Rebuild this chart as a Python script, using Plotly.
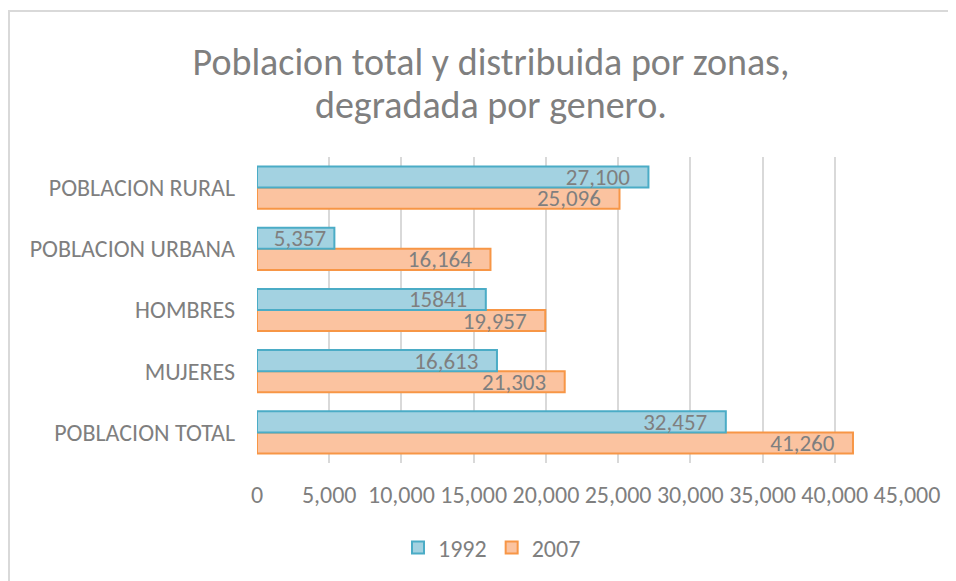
import plotly.graph_objects as go

categories = ["POBLACION TOTAL", "MUJERES", "HOMBRES", "POBLACION URBANA", "POBLACION RURAL"]
values_1992 = [32457, 16613, 15841, 5357, 27100]
values_2007 = [41260, 21303, 19957, 16164, 25096]
labels_1992 = ["32,457", "16,613", "15841", "5,357", "27,100"]
labels_2007 = ["41,260", "21,303", "19,957", "16,164", "25,096"]
x_ticks = [0, 5000, 10000, 15000, 20000, 25000, 30000, 35000, 40000, 45000]
x_tick_labels = ["0", "5,000", "10,000", "15,000", "20,000", "25,000", "30,000", "35,000", "40,000", "45,000"]
title_lines = ["Poblacion total y distribuida por zonas,", "degradada por genero."]

FONT = "Carlito, Calibri, Lato, 'Open Sans', sans-serif"
GRAY = "#7f7f7f"


def padded(labels, values):
    # inner padding at the bar end, smaller for short bars
    return [t + ("\u00a0" if v < 8000 else "\u00a0\u00a0\u00a0") for t, v in zip(labels, values)]


# browser body margin of 8px shifts the figure; compensate
OFF = 8
W, H = 956 - OFF, 581 - OFF
PL, PR, PT, PB = 257 - OFF, 907 - OFF, 157 - OFF, 463 - OFF
PW, PH = PR - PL, PB - PT


def px_x(x):  # page pixel -> paper x
    return (x - OFF - PL) / PW


def px_y(y):  # page pixel -> paper y
    return (PB - (y - OFF)) / PH


fig = go.Figure()
fig.add_trace(go.Bar(
    y=categories, x=values_2007, name="2007", orientation="h",
    marker=dict(color="#fbc3a0", line=dict(color="#f79646", width=2)),
    text=padded(labels_2007, values_2007), textposition="inside", insidetextanchor="end",
    constraintext="none", textfont=dict(color=GRAY, size=23, family=FONT),
))
fig.add_trace(go.Bar(
    y=categories, x=values_1992, name="1992", orientation="h",
    marker=dict(color="#a3d2e1", line=dict(color="#4bacc6", width=2)),
    text=padded(labels_1992, values_1992), textposition="inside", insidetextanchor="end",
    constraintext="none", textfont=dict(color=GRAY, size=23, family=FONT),
))

fig.update_layout(
    width=W, height=H,
    margin=dict(l=PL, r=W - PR, t=PT, b=H - PB),
    paper_bgcolor="white", plot_bgcolor="white",
    barmode="group", bargap=0.31, bargroupgap=0,
    font=dict(family=FONT, color=GRAY),
    title=dict(
        text=title_lines[0],
        x=(491 - OFF) / W, xanchor="center", xref="container",
        y=1 - (62 - OFF) / H, yanchor="middle", yref="container",
        font=dict(size=38, color=GRAY, family=FONT),
    ),
    annotations=[dict(
        text=title_lines[1], xref="paper", yref="paper",
        x=px_x(491), y=px_y(105), xanchor="center", yanchor="middle",
        showarrow=False, font=dict(size=38, color=GRAY, family=FONT),
    )],
    xaxis=dict(
        range=[0, 45000], tickvals=x_ticks, ticktext=x_tick_labels,
        showgrid=True, gridcolor="#d9d9d9", gridwidth=2,
        zeroline=False, showline=False, ticks="",
        tickfont=dict(size=24, color=GRAY), ticklabelstandoff=15,
    ),
    yaxis=dict(
        showgrid=False, zeroline=False, showline=False, ticks="",
        tickfont=dict(size=24, color=GRAY), ticklabelstandoff=21,
    ),
    showlegend=True,
    legend=dict(
        orientation="h", traceorder="reversed",
        x=(492 - OFF) / W, xanchor="center", xref="container",
        y=1 - (548 - OFF) / H, yanchor="middle", yref="container",
        font=dict(size=24, color=GRAY),
    ),
    shapes=[dict(
        type="rect", xref="paper", yref="paper",
        x0=px_x(OFF + 1), x1=px_x(980),
        y0=px_y(620), y1=px_y(11),
        line=dict(color="#d9d9d9", width=2), fillcolor="rgba(0,0,0,0)", layer="below",
    )],
)

fig.write_html("out.html")
